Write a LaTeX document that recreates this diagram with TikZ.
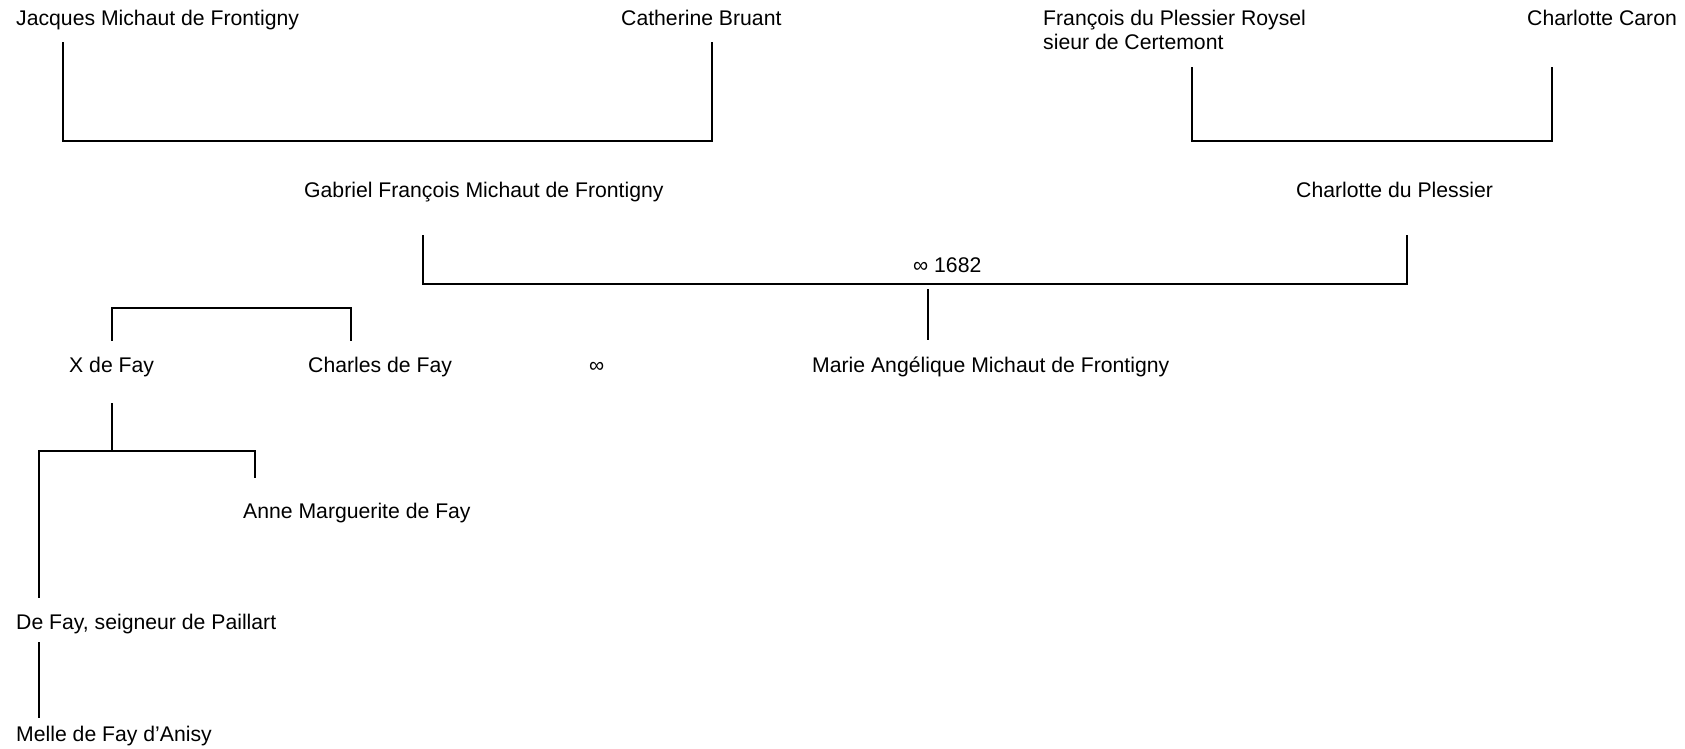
\documentclass[tikz,border=0pt]{standalone}
\usepackage{fontspec}
\setmainfont{Liberation Sans}
\usepackage{tikz}

\tikzset{
  person/.style={anchor=base west,inner sep=0pt,align=left},
  link/.style={line width=1.6pt,line cap=rect}
}

\begin{document}
\begin{tikzpicture}[x=1pt,y=-1pt,font=\fontsize{21.2}{24}\selectfont]
  \useasboundingbox (0,0) rectangle (1685,748);

  % Grandparents
  \node[person] (jacques) at (16,25) {Jacques Michaut de Frontigny};
  \node[person] (catherine) at (621,25) {Catherine Bruant};
  \node[person] (francois) at (1043,49) {François du Plessier Roysel\\sieur de Certemont};
  \node[person] (caron) at (1527,25) {Charlotte Caron};

  % Parents
  \node[person] (gabriel) at (304,197) {Gabriel François Michaut de Frontigny};
  \node[person] (plessier) at (1296,197) {Charlotte du Plessier};
  \node[person] (wedding) at (913,272) {∞ 1682};

  % Children
  \node[person] (xfay) at (69,372) {X de Fay};
  \node[person] (charles) at (308,372) {Charles de Fay};
  \node[person] (marr) at (589,372) {∞};
  \node[person] (marie) at (812,372) {Marie Angélique Michaut de Frontigny};
  \node[person] (anne) at (243,518) {Anne Marguerite de Fay};
  \node[person] (paillart) at (16,629) {De Fay, seigneur de Paillart};
  \node[person] (melle) at (16,741) {Melle de Fay d’Anisy};

  % Line ends
  \coordinate (jacques-s) at (63,43);
  \coordinate (catherine-s) at (712,43);
  \coordinate (francois-s) at (1192,68);
  \coordinate (caron-s) at (1552,68);
  \coordinate (gabriel-s) at (423,236);
  \coordinate (plessier-s) at (1407,236);
  \coordinate (marie-top) at (928,290);
  \coordinate (marie-n) at (928,339);
  \coordinate (xfay-n) at (112,340);
  \coordinate (charles-n) at (351,340);
  \coordinate (xfay-s) at (112,404);
  \coordinate (split) at (112,451);
  \coordinate (anne-n) at (255,477);
  \coordinate (paillart-n) at (39,597);
  \coordinate (paillart-s) at (39,643);
  \coordinate (melle-n) at (39,717);

  % Couples
  \draw[link] (jacques-s) -- ++(0,98) -| (catherine-s);
  \draw[link] (francois-s) -- ++(0,73) -| (caron-s);
  \draw[link] (gabriel-s) -- ++(0,48) -| (plessier-s);
  \draw[link] (marie-top) -- (marie-n);

  % Siblings
  \draw[link] (xfay-n) -- ++(0,-32) -| (charles-n);

  % Descendants
  \draw[link] (xfay-s) -- (split);
  \draw[link] (paillart-n) |- (split) -| (anne-n);
  \draw[link] (paillart-s) -- (melle-n);
\end{tikzpicture}
\end{document}
